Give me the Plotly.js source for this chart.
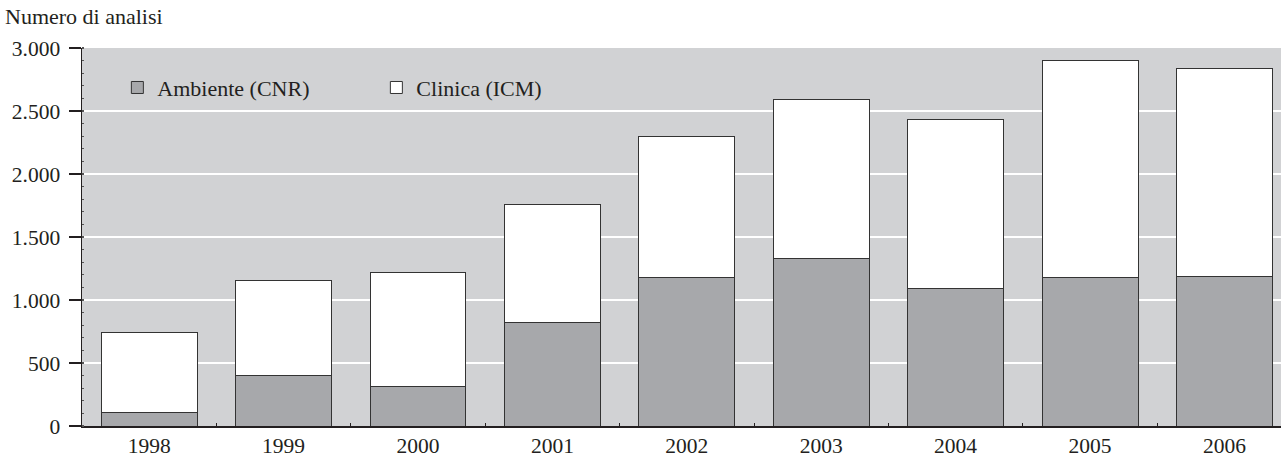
<!DOCTYPE html>
<html>
<head>
<meta charset="utf-8">
<script src="https://cdn.plot.ly/plotly-3.0.1.min.js"></script>
<style>html,body{margin:0;padding:0;background:#fff;}#chart{width:1281px;height:466px;}</style>
</head>
<body>
<div id="chart"></div>
<script>
const years = ['1998','1999','2000','2001','2002','2003','2004','2005','2006'];
const ambiente = [105, 400, 310, 820, 1180, 1330, 1090, 1175, 1185];
const clinica = [635, 755, 905, 940, 1120, 1265, 1340, 1725, 1655];
const yTickVals = [0, 500, 1000, 1500, 2000, 2500, 3000];
const yAxisLabel = 'Numero di analisi';
const nameAmbiente = 'Ambiente (CNR)';
const nameClinica = 'Clinica (ICM)';

const font = '"Liberation Serif", "Times New Roman", Times, serif';
const traces = [
  {type:'bar', x: years, y: ambiente, name: nameAmbiente, width: 0.714,
   marker:{color:'#a7a8ab', line:{color:'#333333', width:1}}},
  {type:'bar', x: years, y: clinica, name: nameClinica, width: 0.714,
   marker:{color:'#ffffff', line:{color:'#333333', width:1}}}
];
const layout = {
  width: 1281, height: 466,
  margin: {l: 82, r: 0, t: 48, b: 40, pad: 0},
  barmode: 'stack',
  separators: ',.',
  paper_bgcolor: '#ffffff',
  plot_bgcolor: '#d1d2d4',
  font: {family: font, size: 22, color: '#231f20'},
  showlegend: true,
  legend: {orientation: 'h', x: 0.0295, y: 0.895, xanchor: 'left', yanchor: 'middle',
           bgcolor: 'rgba(0,0,0,0)', font: {family: font, size: 22, color: '#231f20'},
           itemwidth: 30, entrywidth: 214, entrywidthmode: 'pixels', traceorder: 'normal'},
  xaxis: {type: 'category', range: [-0.5, 8.421], showgrid: false, zeroline: false,
          showline: true, linecolor: '#231f20', linewidth: 1.5,
          ticks: 'inside', tickson: 'boundaries', ticklen: 3, tickcolor: '#231f20',
          tickfont: {family: font, size: 21.5, color: '#231f20'}, fixedrange: true},
  yaxis: {range: [0, 3000], tickvals: yTickVals, tickformat: ',', showgrid: true,
          gridcolor: '#ffffff', gridwidth: 1.5, zeroline: false,
          showline: true, linecolor: '#231f20', linewidth: 1.5,
          ticks: 'outside', ticklen: 12, tickcolor: '#231f20', tickwidth: 1.2,
          ticklabelstandoff: 4,
          minor: {dtick: 100, ticks: 'inside', ticklen: 2, tickcolor: '#555', showgrid: false},
          tickfont: {family: font, size: 21.5, color: '#231f20'}, fixedrange: true},
  annotations: [
    {text: yAxisLabel, xref: 'paper', yref: 'paper', x: -82/1199 + 3/1199, y: 1 + (48-17)/378,
     xanchor: 'left', yanchor: 'middle', showarrow: false,
     font: {family: font, size: 22, color: '#231f20'}}
  ]
};
Plotly.newPlot('chart', traces, layout, {displayModeBar: false, staticPlot: true});
</script>
</body>
</html>
